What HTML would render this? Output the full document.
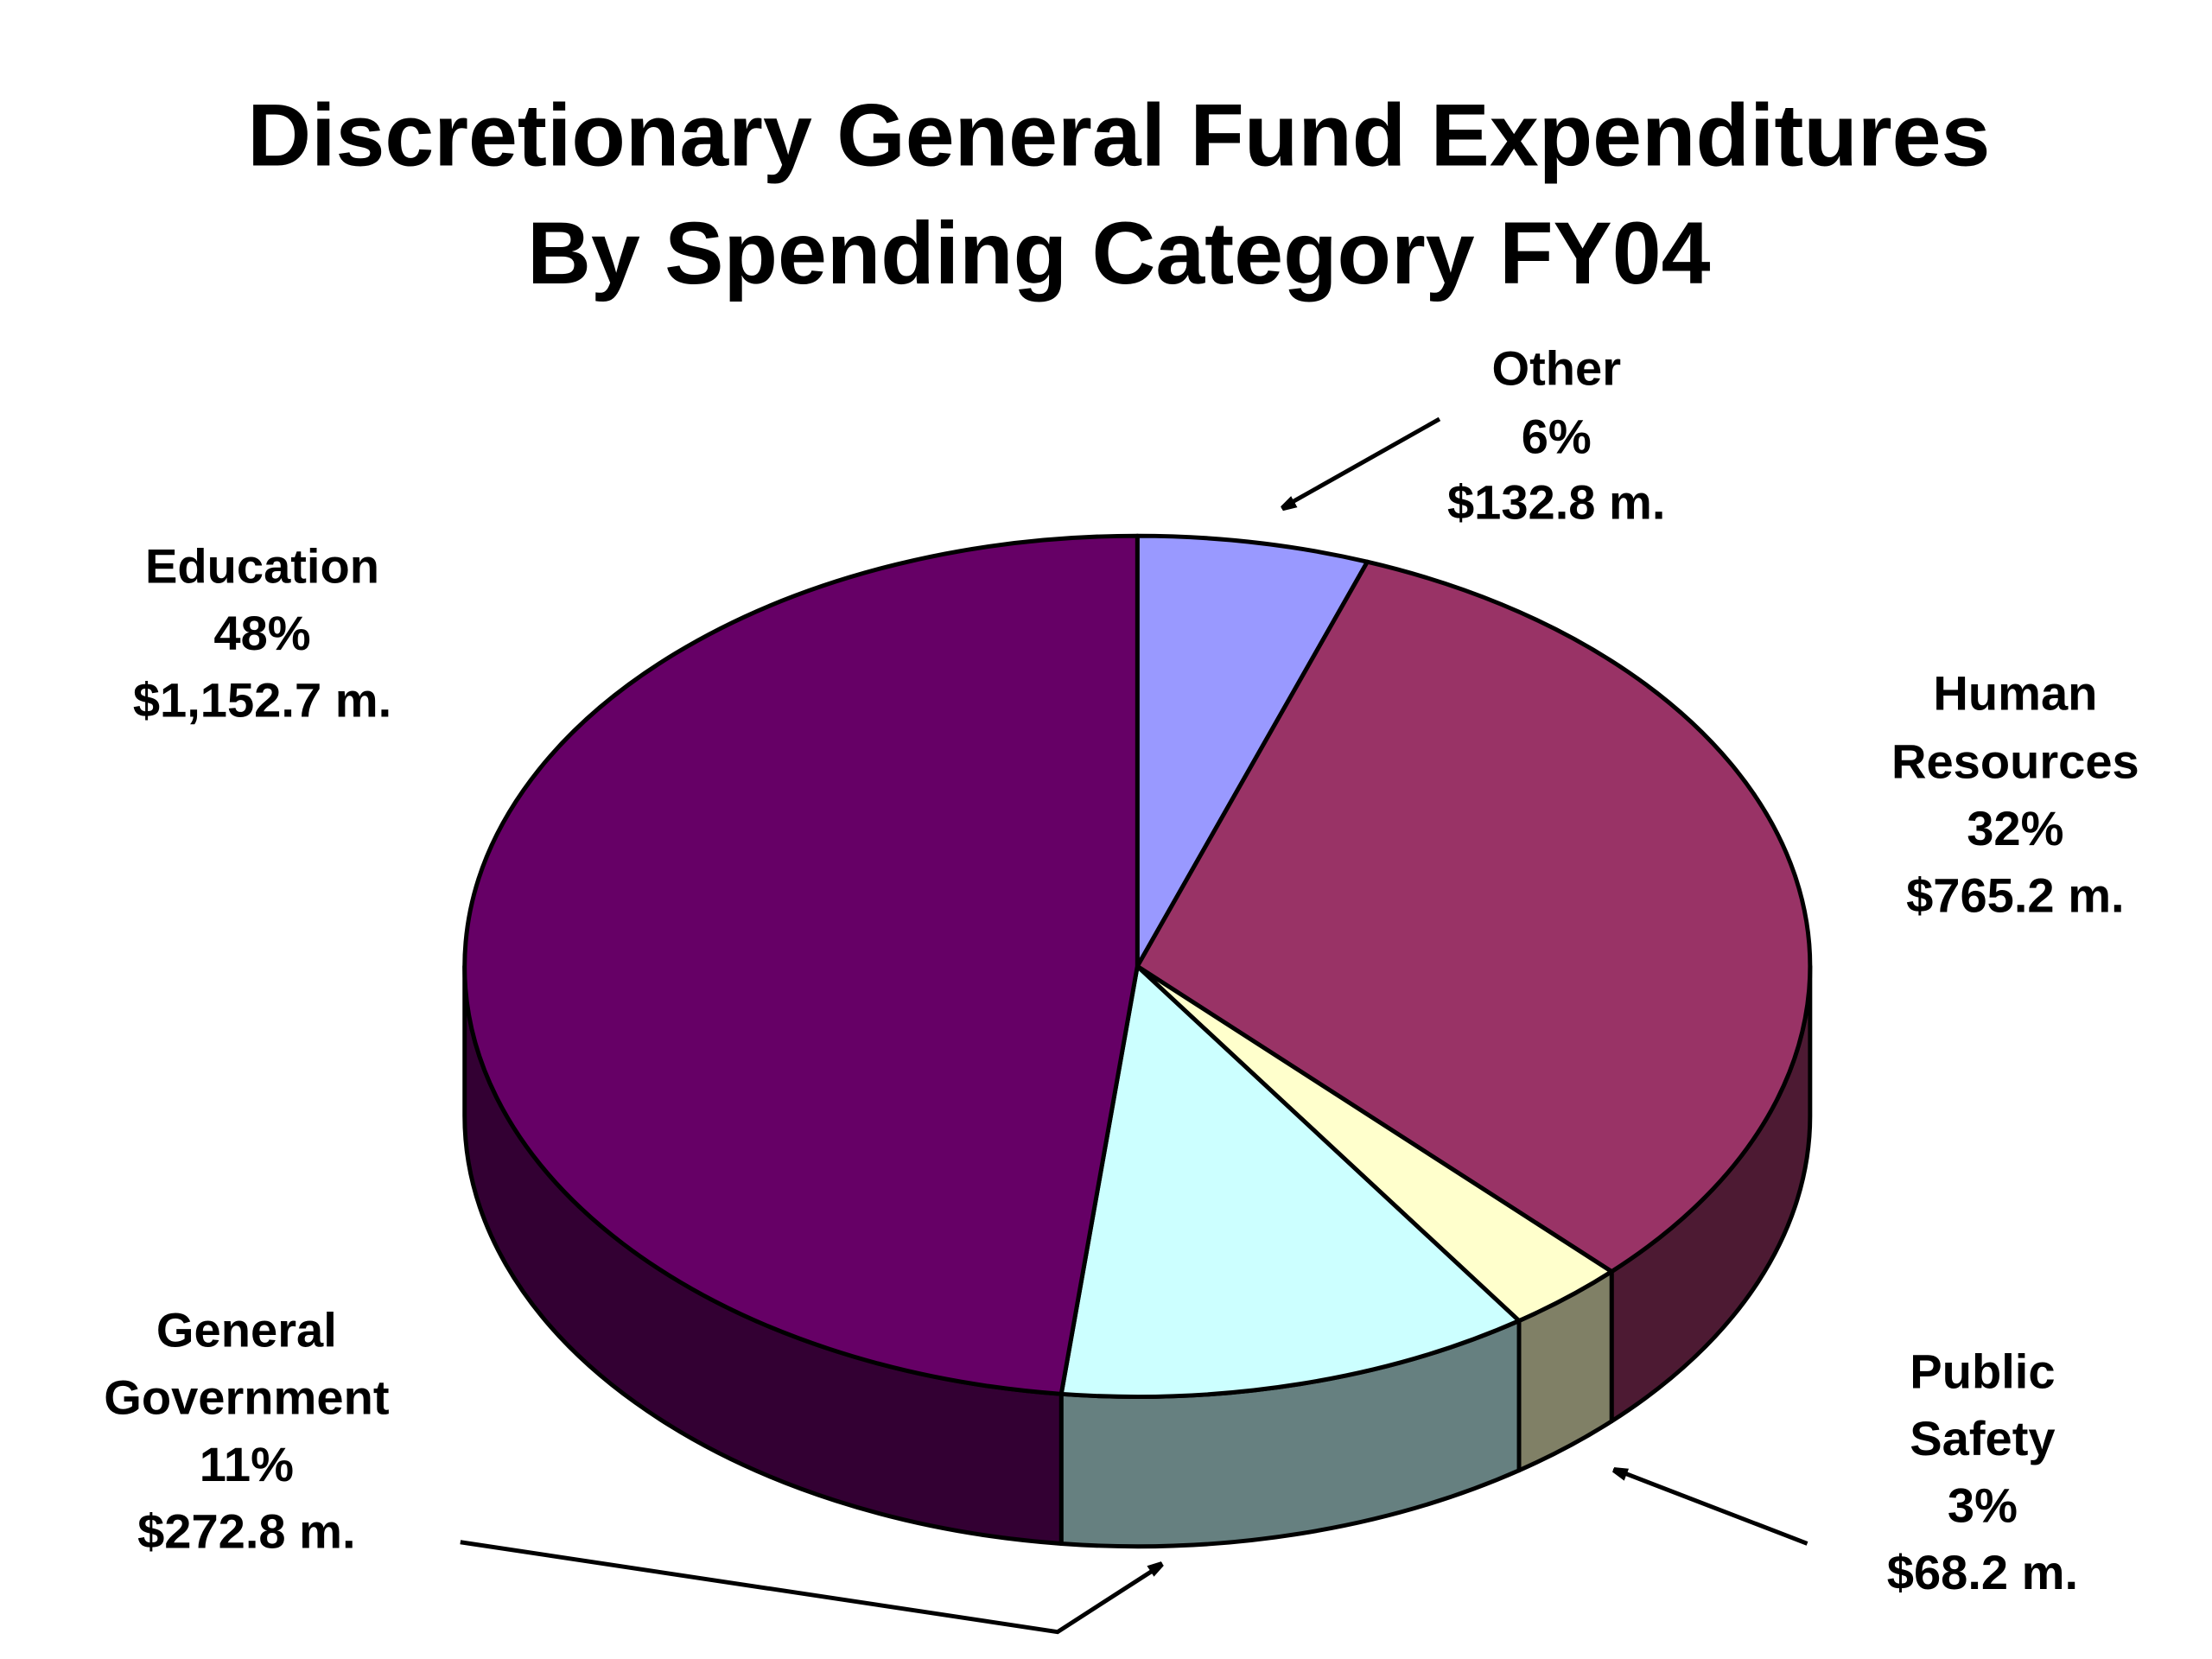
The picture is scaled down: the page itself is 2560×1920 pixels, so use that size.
<!DOCTYPE html>
<html><head><meta charset="utf-8">
<style>
html,body{margin:0;padding:0;background:#fff;}
svg{display:block;}
text{font-family:"Liberation Sans",Arial,sans-serif;font-weight:bold;fill:#000;}
</style></head>
<body>
<svg id="chart" width="2560" height="1920" viewBox="0 0 1552 1164" xmlns="http://www.w3.org/2000/svg">
<defs>
<marker id="ah" markerWidth="10" markerHeight="10" refX="9" refY="5" orient="auto" markerUnits="userSpaceOnUse"><path d="M0,0 L18,5 L0,10 z" transform="scale(0.9)" fill="#000"/></marker>
</defs>
<text x="785" y="116" font-size="62" text-anchor="middle">Discretionary General Fund Expenditures</text>
<text x="785" y="199" font-size="62" text-anchor="middle">By Spending Category FY04</text>
<g id="sides"></g>
<g id="tops"></g>
<g font-size="34" text-anchor="middle">
<text x="1092" y="270">Other</text><text x="1092" y="318">6%</text><text x="1092" y="364">$132.8 m.</text></g>
<g font-size="34" text-anchor="middle">
<text x="184" y="409">Education</text><text x="184" y="456">48%</text><text x="184" y="503">$1,152.7 m.</text></g>
<g font-size="34" text-anchor="middle">
<text x="1414" y="498">Human</text><text x="1414" y="546">Resources</text><text x="1414" y="593">32%</text><text x="1414" y="640">$765.2 m.</text></g>
<g font-size="34" text-anchor="middle">
<text x="173" y="945">General</text><text x="173" y="992">Government</text><text x="173" y="1039">11%</text><text x="173" y="1086">$272.8 m.</text></g>
<g font-size="34" text-anchor="middle">
<text x="1391" y="974">Public</text><text x="1391" y="1021">Safety</text><text x="1391" y="1068">3%</text><text x="1391" y="1115">$68.2 m.</text></g>
<line x1="1010" y1="294" x2="900" y2="356" stroke="#000" stroke-width="3" marker-end="url(#ah)"/>
<line x1="1268" y1="1083" x2="1133" y2="1031" stroke="#000" stroke-width="3" marker-end="url(#ah)"/>
<polyline points="323,1082 742,1145 815,1098" fill="none" stroke="#000" stroke-width="3" marker-end="url(#ah)"/>
</svg>
<script>
const categories = ["Other", "Human Resources", "Public Safety", "General Government", "Education"];
const values = [132.8, 765.2, 68.2, 272.8, 1152.7];
const topColors = ["#9999ff", "#993366", "#ffffcc", "#ccffff", "#660066"];
const sideColors = ["#4d4d80", "#4d1a33", "#808066", "#668080", "#330033"];

const cx = 798, cy = 678, rx = 472, ry = 302, depth = 105;
const NS = "http://www.w3.org/2000/svg";
const total = values.reduce((a, b) => a + b, 0);
function pt(deg, dy) {
  const r = deg * Math.PI / 180;
  return [cx + rx * Math.sin(r), cy - ry * Math.cos(r) + (dy || 0)];
}
const sides = document.getElementById("sides");
const tops = document.getElementById("tops");
let acc = 0;
values.forEach((v, i) => {
  const a = acc / total * 360;
  acc += v;
  const b = acc / total * 360;
  const slug = categories[i].toLowerCase().replace(/\s+/g, "-");
  // side wall (front half 90..270)
  const sa = Math.max(a, 90), sb = Math.min(b, 270);
  if (sb > sa) {
    const p1 = pt(sa), p2 = pt(sb), p3 = pt(sb, depth), p4 = pt(sa, depth);
    const large = (sb - sa) > 180 ? 1 : 0;
    const s = document.createElementNS(NS, "path");
    s.setAttribute("d", `M${p1} A${rx},${ry} 0 ${large} 1 ${p2} L${p3} A${rx},${ry} 0 ${large} 0 ${p4} Z`);
    s.setAttribute("fill", sideColors[i]);
    s.setAttribute("stroke", "#000");
    s.setAttribute("stroke-width", "3");
    s.setAttribute("stroke-linejoin", "round");
    
    
    sides.appendChild(s);
  }
  const p1 = pt(a), p2 = pt(b);
  const large = (b - a) > 180 ? 1 : 0;
  const t = document.createElementNS(NS, "path");
  t.setAttribute("d", `M${cx},${cy} L${p1} A${rx},${ry} 0 ${large} 1 ${p2} Z`);
  t.setAttribute("fill", topColors[i]);
  t.setAttribute("stroke", "#000");
  t.setAttribute("stroke-width", "3");
  t.setAttribute("stroke-linejoin", "round");
  
  
  tops.appendChild(t);
});
</script>
</body></html>
